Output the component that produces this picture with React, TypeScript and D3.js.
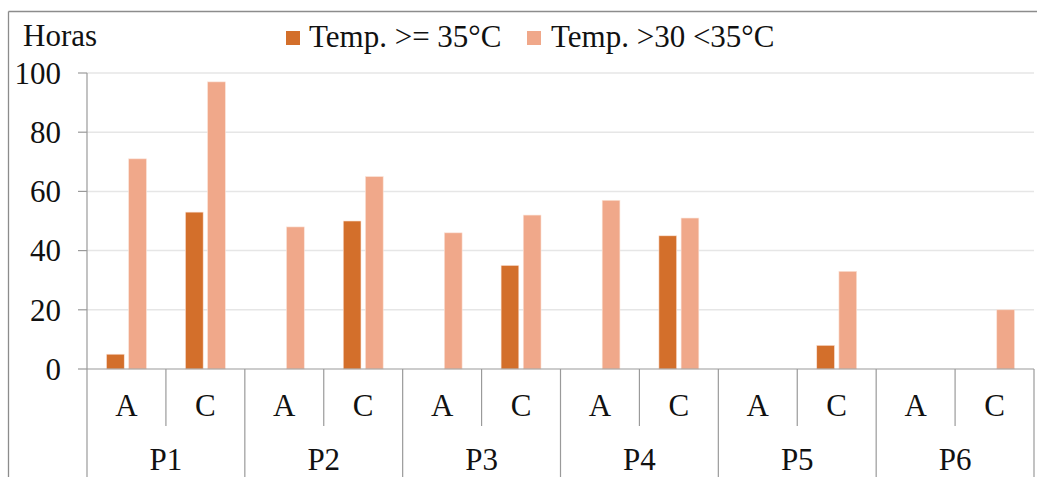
import React from "react";
import * as d3 from "d3";

const groups = ["P1", "P2", "P3", "P4", "P5", "P6"];
const subCats = ["A", "C"];
const seriesNames = ["Temp. >= 35°C", "Temp. >30 <35°C"];
const seriesColors = ["#D36F2B", "#F0A88A"];
// values per category in order P1A, P1C, P2A, P2C, ...
const hot35 = [5, 53, 0, 50, 0, 35, 0, 45, 0, 8, 0, 0];
const warm30to35 = [71, 97, 48, 65, 46, 52, 57, 51, 0, 33, 0, 20];
const yTicks = [0, 20, 40, 60, 80, 100];
const yAxisTitle = "Horas";

const W = 1037;
const H = 477;
const FONT = "'Liberation Serif', 'Times New Roman', serif";
const FS = 31;

export default function App() {
  const cats = groups.flatMap((g) => subCats.map((s) => `${g}-${s}`));
  const x = d3.scaleBand<string>().domain(cats).range([87, 1034]).paddingInner(0).paddingOuter(0);
  const bw = x.bandwidth();
  const xs = d3
    .scaleBand<number>()
    .domain([0, 1])
    .range([bw * 0.247, bw * 0.753])
    .paddingInner(0.2)
    .paddingOuter(0);
  const y = d3.scaleLinear().domain([0, 100]).range([369, 73]);
  const series = [hot35, warm30to35];
  const axisColor = "#9a9a9a";
  const y0 = y(0);

  return (
    <svg
      width={W}
      height={H}
      style={{ position: "fixed", left: 0, top: 0, background: "#fff" }}
      fontFamily={FONT}
    >
      <rect x={0} y={0} width={W} height={H} fill="#fff" />
      {/* outer border */}
      <line x1={8.5} y1={11.5} x2={W} y2={11.5} stroke="#8c8c8c" strokeWidth={1.3} />
      <line x1={8.5} y1={11.5} x2={8.5} y2={H} stroke="#8c8c8c" strokeWidth={1.3} />

      {/* gridlines */}
      {yTicks
        .filter((t) => t !== 0)
        .map((t) => (
          <line key={`g${t}`} x1={87} x2={1034} y1={y(t)} y2={y(t)} stroke="#e6e6e6" strokeWidth={1.5} />
        ))}

      {/* bars */}
      {series.map((vals, si) =>
        vals.map((v, ci) =>
          v > 0 ? (
            <rect
              key={`b${si}-${ci}`}
              x={(x(cats[ci]) as number) + (xs(si) as number)}
              y={y(v)}
              width={xs.bandwidth()}
              height={y0 - y(v)}
              fill={seriesColors[si]}
              stroke="#fbe3d8"
              strokeWidth={0.6}
            />
          ) : null
        )
      )}

      {/* y axis */}
      <line x1={87} x2={87} y1={y(100)} y2={y0} stroke={axisColor} strokeWidth={1.2} />
      {yTicks.map((t) => (
        <g key={`t${t}`}>
          <line x1={78} x2={87} y1={y(t)} y2={y(t)} stroke={axisColor} strokeWidth={1.2} />
          <text x={61} y={y(t)} dy="0.35em" textAnchor="end" fontSize={FS} fill="#111">
            {t}
          </text>
        </g>
      ))}
      <text x={23} y={46} fontSize={FS} fill="#111">
        {yAxisTitle}
      </text>

      {/* x axis */}
      <line x1={87} x2={1034} y1={y0} y2={y0} stroke={axisColor} strokeWidth={1.2} />
      {cats.map((c, i) => {
        const left = x(c) as number;
        const isGroupStart = i % 2 === 0;
        return (
          <g key={`c${c}`}>
            <line
              x1={left}
              x2={left}
              y1={y0}
              y2={isGroupStart ? H : 426}
              stroke={axisColor}
              strokeWidth={1.2}
            />
            <text x={left + bw / 2} y={416} textAnchor="middle" fontSize={FS} fill="#111">
              {subCats[i % 2]}
            </text>
          </g>
        );
      })}
      <line x1={1034} x2={1034} y1={y0} y2={H} stroke={axisColor} strokeWidth={1.2} />
      {groups.map((g, gi) => {
        const left = x(cats[gi * 2]) as number;
        return (
          <text key={`p${g}`} x={left + bw} y={470} textAnchor="middle" fontSize={FS} fill="#111">
            {g}
          </text>
        );
      })}

      {/* legend */}
      {[
        { x: 286, tx: 309 },
        { x: 527, tx: 551 },
      ].map((p, i) => (
        <g key={`l${i}`}>
          <rect x={p.x} y={31} width={14} height={14} fill={seriesColors[i]} />
          <text x={p.tx} y={47} fontSize={FS} fill="#111">
            {seriesNames[i]}
          </text>
        </g>
      ))}
    </svg>
  );
}
